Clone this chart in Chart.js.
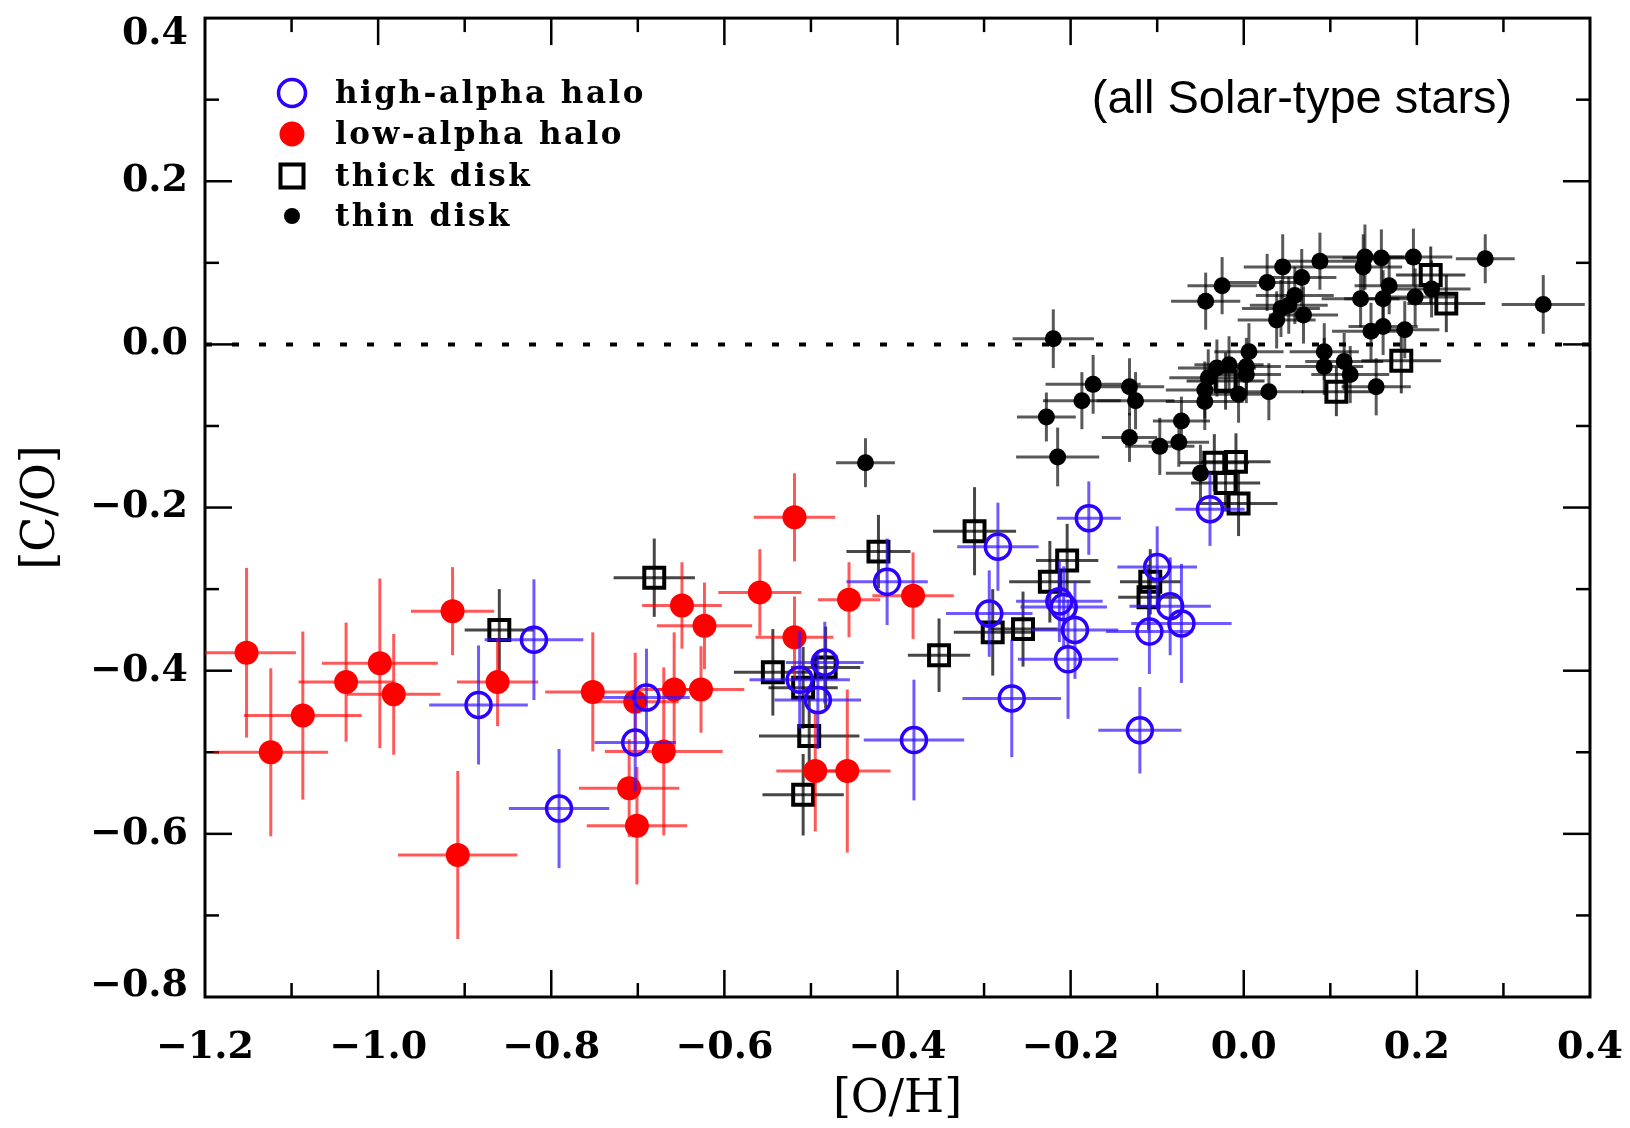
<!DOCTYPE html>
<html>
<head>
<meta charset="utf-8">
<title>[C/O] vs [O/H]</title>
<script src="https://cdn.jsdelivr.net/npm/chart.js@4.4.1/dist/chart.umd.min.js"></script>
<style>
    html, body { margin: 0; padding: 0; background: #fff; }
    canvas { display: block; }
</style>
</head>
<body>
<canvas id="coChart" width="1630" height="1128"></canvas>
<script>
// Values: [O/H], [C/O] and their 1-sigma errors

const highAlphaOH = [-0.884, -0.820, -0.791, -0.690, -0.703, -0.513, -0.492, -0.484, -0.412, -0.381, -0.294, -0.284,
    -0.268, -0.213, -0.208, -0.195, -0.203, -0.179, -0.120, -0.109, -0.100, -0.085, -0.072, -0.039];
const highAlphaCO = [-0.442, -0.362, -0.569, -0.433, -0.488, -0.411, -0.436, -0.390, -0.291, -0.485, -0.330, -0.248,
    -0.434, -0.315, -0.322, -0.350, -0.386, -0.213, -0.473, -0.352, -0.273, -0.321, -0.342, -0.202];
const highAlphaOHErr = [0.057, 0.057, 0.058, 0.050, 0.047, 0.058, 0.050, 0.045, 0.047, 0.058, 0.050, 0.047,
    0.057, 0.050, 0.050, 0.050, 0.058, 0.037, 0.048, 0.050, 0.046, 0.047, 0.058, 0.040];
const highAlphaCOErr = [0.073, 0.074, 0.073, 0.060, 0.060, 0.060, 0.060, 0.050, 0.053, 0.074, 0.053, 0.054,
    0.072, 0.050, 0.050, 0.060, 0.073, 0.045, 0.053, 0.052, 0.050, 0.060, 0.073, 0.045];

const lowAlphaOH = [-1.152, -1.124, -1.087, -1.037, -0.998, -0.982, -0.914, -0.908, -0.862, -0.752, -0.703, -0.710,
    -0.701, -0.670, -0.658, -0.649, -0.623, -0.627, -0.559, -0.519, -0.519, -0.495, -0.458, -0.456, -0.382];
const lowAlphaCO = [-0.378, -0.500, -0.455, -0.414, -0.391, -0.429, -0.327, -0.626, -0.414, -0.426, -0.438, -0.544,
    -0.590, -0.499, -0.423, -0.320, -0.345, -0.423, -0.304, -0.212, -0.359, -0.523, -0.523, -0.313, -0.308];
const lowAlphaOHErr = [0.057, 0.066, 0.068, 0.055, 0.067, 0.054, 0.048, 0.069, 0.047, 0.055, 0.050, 0.058,
    0.058, 0.068, 0.045, 0.046, 0.055, 0.050, 0.048, 0.047, 0.045, 0.045, 0.050, 0.036, 0.047];
const lowAlphaCOErr = [0.104, 0.103, 0.103, 0.073, 0.104, 0.074, 0.054, 0.103, 0.054, 0.073, 0.060, 0.060,
    0.072, 0.103, 0.070, 0.053, 0.053, 0.053, 0.053, 0.054, 0.050, 0.074, 0.100, 0.046, 0.053];

const thickDiskOH = [-0.860, -0.681, -0.544, -0.509, -0.502, -0.509, -0.483, -0.422, -0.352, -0.311, -0.290, -0.255,
    -0.224, -0.204, -0.108, -0.110, -0.034, -0.009, -0.021, -0.006, -0.021, 0.107, 0.182, 0.216, 0.234];
const thickDiskCO = [-0.350, -0.286, -0.402, -0.421, -0.480, -0.552, -0.396, -0.254, -0.381, -0.229, -0.353, -0.349,
    -0.291, -0.265, -0.291, -0.310, -0.145, -0.144, -0.170, -0.195, -0.045, -0.058, -0.020, 0.085, 0.050];
const thickDiskOHErr = [0.040, 0.047, 0.045, 0.040, 0.058, 0.047, 0.040, 0.037, 0.036, 0.048, 0.045, 0.040,
    0.047, 0.036, 0.035, 0.035, 0.040, 0.040, 0.040, 0.045, 0.045, 0.040, 0.046, 0.040, 0.045];
const thickDiskCOErr = [0.050, 0.048, 0.053, 0.050, 0.050, 0.050, 0.050, 0.045, 0.045, 0.054, 0.053, 0.046,
    0.050, 0.045, 0.040, 0.040, 0.035, 0.035, 0.035, 0.040, 0.035, 0.030, 0.040, 0.035, 0.035];

const thinDiskOH = [-0.437, -0.228, -0.220, -0.215, -0.187, -0.174, -0.132, -0.125, -0.132, -0.097, -0.072, -0.075,
    -0.050, -0.045, -0.045, -0.041, -0.031, -0.017, -0.006, 0.003, 0.003, 0.006, 0.029, -0.044, -0.025, 0.027,
    0.045, 0.067, 0.088, 0.043, 0.038, 0.069, 0.059, 0.052, 0.093, 0.093, 0.116, 0.123, 0.153, 0.138, 0.140,
    0.159, 0.196, 0.168, 0.135, 0.161, 0.198, 0.217, 0.147, 0.161, 0.186, 0.279, 0.346];
const thinDiskCO = [-0.145, -0.089, 0.007, -0.138, -0.069, -0.049, -0.052, -0.069, -0.114, -0.125, -0.094, -0.120,
    -0.158, -0.070, -0.056, -0.041, -0.029, -0.025, -0.061, -0.027, -0.037, -0.009, -0.058, 0.053, 0.072, 0.076,
    0.095, 0.082, 0.102, 0.044, 0.030, 0.036, 0.060, 0.048, -0.009, -0.027, -0.021, -0.037, -0.052, 0.095, 0.107,
    0.106, 0.107, 0.072, 0.056, 0.056, 0.058, 0.068, 0.016, 0.022, 0.018, 0.105, 0.049];
const thinDiskOHErr = [0.034, 0.034, 0.047, 0.048, 0.045, 0.055, 0.040, 0.045, 0.032, 0.040, 0.033, 0.035,
    0.040, 0.045, 0.045, 0.045, 0.045, 0.040, 0.040, 0.040, 0.040, 0.040, 0.040, 0.040, 0.040, 0.045,
    0.045, 0.040, 0.050, 0.045, 0.045, 0.040, 0.045, 0.045, 0.040, 0.045, 0.045, 0.045, 0.040, 0.045, 0.045,
    0.045, 0.045, 0.040, 0.045, 0.045, 0.045, 0.045, 0.045, 0.040, 0.040, 0.034, 0.048];
const thinDiskCOErr = [0.030, 0.030, 0.036, 0.036, 0.035, 0.036, 0.035, 0.035, 0.030, 0.035, 0.030, 0.030,
    0.035, 0.035, 0.035, 0.035, 0.035, 0.035, 0.035, 0.035, 0.035, 0.035, 0.035, 0.035, 0.035, 0.035,
    0.040, 0.035, 0.035, 0.035, 0.035, 0.035, 0.035, 0.035, 0.035, 0.035, 0.035, 0.035, 0.035, 0.040, 0.040,
    0.035, 0.035, 0.035, 0.035, 0.035, 0.035, 0.035, 0.035, 0.035, 0.035, 0.030, 0.036];

const solarLine = [-1.2, 0.4];   // dotted [C/O] = 0 line

const xTicks = [-1.2, -1.0, -0.8, -0.6, -0.4, -0.2, 0.0, 0.2, 0.4];
const yTicks = [-0.8, -0.6, -0.4, -0.2, 0.0, 0.2, 0.4];

const BLUE = '#2d00ff';
const RED = '#ff0000';
const SERIF = "'DejaVu Serif', 'Liberation Serif', serif";

const toPoints = (xs, ys) => xs.map((x, i) => ({ x: x, y: ys[i] }));
const fmt = (v) => (v < -1e-9 ? '\u2212' : '') + Math.abs(v).toFixed(1);
const isTop = (v) => Math.abs(v - yTicks[yTicks.length - 1]) < 1e-9;
const isBottom = (v) => Math.abs(v - yTicks[0]) < 1e-9;

// Keep the plot box exactly where the original has it
const pinBox = (size) => (scale) => {
    if (scale.isHorizontal()) scale.height = size;
    else scale.width = size;
    scale.paddingTop = 0;
    scale.paddingBottom = 0;
    scale.paddingLeft = 0;
    scale.paddingRight = 0;
};

// Error bars, drawn under each dataset's own markers
const errorBars = {
    id: 'errorBars',
    beforeDatasetDraw(chart, args) {
        const ds = chart.data.datasets[args.index];
        if (!ds.errX) return;
        const { ctx, chartArea: a, scales: { x, y } } = chart;
        ctx.save();
        ctx.beginPath();
        ctx.rect(a.left, a.top, a.right - a.left, a.bottom - a.top);
        ctx.clip();
        ctx.strokeStyle = ds.errColor;
        ctx.lineWidth = 3;
        ds.data.forEach((p, i) => {
            const px = x.getPixelForValue(p.x);
            const py = y.getPixelForValue(p.y);
            ctx.beginPath();
            ctx.moveTo(x.getPixelForValue(p.x - ds.errX[i]), py);
            ctx.lineTo(x.getPixelForValue(p.x + ds.errX[i]), py);
            ctx.stroke();
            ctx.beginPath();
            ctx.moveTo(px, y.getPixelForValue(p.y - ds.errY[i]));
            ctx.lineTo(px, y.getPixelForValue(p.y + ds.errY[i]));
            ctx.stroke();
        });
        ctx.restore();
    }
};

// IDL style box: frame plus inward ticks on all four sides
const boxFrame = {
    id: 'boxFrame',
    beforeDatasetsDraw(chart) {
        const { ctx, chartArea: a, scales: { x, y } } = chart;
        const MAJOR = 27, MINOR = 14;
        const seg = (px, py, dx, dy) => {
            ctx.beginPath();
            ctx.moveTo(px, py);
            ctx.lineTo(px + dx, py + dy);
            ctx.stroke();
        };
        ctx.save();
        ctx.strokeStyle = '#000';
        ctx.lineWidth = 2.5;
        xTicks.forEach((v, i) => {
            if (i > 0 && i < xTicks.length - 1) {
                const px = x.getPixelForValue(v);
                seg(px, a.bottom, 0, -MAJOR);
                seg(px, a.top, 0, MAJOR);
            }
            if (i < xTicks.length - 1) {
                const pm = x.getPixelForValue((v + xTicks[i + 1]) / 2);
                seg(pm, a.bottom, 0, -MINOR);
                seg(pm, a.top, 0, MINOR);
            }
        });
        yTicks.forEach((v, i) => {
            if (i > 0 && i < yTicks.length - 1) {
                const py = y.getPixelForValue(v);
                seg(a.left, py, MAJOR, 0);
                seg(a.right, py, -MAJOR, 0);
            }
            if (i < yTicks.length - 1) {
                const pm = y.getPixelForValue((v + yTicks[i + 1]) / 2);
                seg(a.left, pm, MINOR, 0);
                seg(a.right, pm, -MINOR, 0);
            }
        });
        ctx.lineWidth = 3;
        ctx.strokeRect(a.left, a.top, a.right - a.left, a.bottom - a.top);
        ctx.restore();
    }
};

// Legend box in the upper left and the note in the upper right
const legendItems = [
    { label: 'high-alpha halo', marker: 'ring' },
    { label: 'low-alpha halo', marker: 'dot' },
    { label: 'thick disk', marker: 'square' },
    { label: 'thin disk', marker: 'small' }
];

const annotations = {
    id: 'annotations',
    afterDraw(chart) {
        const ctx = chart.ctx;
        const mx = 292, tx = 335, rows = [93, 134, 176, 216];
        ctx.save();
        legendItems.forEach((item, i) => {
            const cy = rows[i];
            ctx.beginPath();
            if (item.marker === 'ring') {
                ctx.arc(mx, cy, 13.5, 0, Math.PI * 2);
                ctx.strokeStyle = BLUE;
                ctx.lineWidth = 3.5;
                ctx.stroke();
            } else if (item.marker === 'dot') {
                ctx.arc(mx, cy, 12.5, 0, Math.PI * 2);
                ctx.fillStyle = RED;
                ctx.fill();
            } else if (item.marker === 'square') {
                ctx.rect(mx - 11.5, cy - 11.5, 23, 23);
                ctx.strokeStyle = '#000';
                ctx.lineWidth = 4;
                ctx.stroke();
            } else {
                ctx.arc(mx, cy, 8, 0, Math.PI * 2);
                ctx.fillStyle = '#000';
                ctx.fill();
            }
            ctx.fillStyle = '#000';
            ctx.font = 'bold 31px ' + SERIF;
            ctx.letterSpacing = '2.5px';
            ctx.textAlign = 'left';
            ctx.textBaseline = 'alphabetic';
            ctx.fillText(item.label, tx, cy + 10);
            ctx.letterSpacing = '0px';
        });
        ctx.font = "47px 'Liberation Sans', Arial, sans-serif";
        ctx.textAlign = 'center';
        ctx.fillText('(all Solar-type stars)', 1302, 113);
        ctx.restore();
    }
};

Chart.defaults.font.family = SERIF;
Chart.defaults.color = '#000';

const ctx = document.getElementById('coChart').getContext('2d');
new Chart(ctx, {
    type: 'scatter',
    data: {
        datasets: [
            {
                label: 'high-alpha halo',
                data: toPoints(highAlphaOH, highAlphaCO),
                errX: highAlphaOHErr,
                errY: highAlphaCOErr,
                errColor: 'rgba(50, 20, 255, 0.7)',
                pointStyle: 'circle',
                pointRadius: 12.5,
                borderWidth: 3.5,
                borderColor: BLUE,
                backgroundColor: 'rgba(0,0,0,0)'
            },
            {
                label: 'low-alpha halo',
                data: toPoints(lowAlphaOH, lowAlphaCO),
                errX: lowAlphaOHErr,
                errY: lowAlphaCOErr,
                errColor: 'rgba(255, 0, 0, 0.65)',
                pointStyle: 'circle',
                pointRadius: 12,
                borderWidth: 0,
                backgroundColor: RED
            },
            {
                label: 'thick disk',
                data: toPoints(thickDiskOH, thickDiskCO),
                errX: thickDiskOHErr,
                errY: thickDiskCOErr,
                errColor: 'rgba(0, 0, 0, 0.72)',
                pointStyle: 'rect',
                pointRadius: 14.1,
                borderWidth: 4,
                borderColor: '#000',
                backgroundColor: 'rgba(0,0,0,0)'
            },
            {
                label: 'thin disk',
                data: toPoints(thinDiskOH, thinDiskCO),
                errX: thinDiskOHErr,
                errY: thinDiskCOErr,
                errColor: 'rgba(0, 0, 0, 0.65)',
                pointStyle: 'circle',
                pointRadius: 8.5,
                borderWidth: 0,
                backgroundColor: '#000'
            },
            {
                label: 'solar',
                type: 'line',
                showLine: true,
                data: solarLine.map(v => ({ x: v, y: 0 })),
                borderColor: '#000',
                borderWidth: 4,
                borderDash: [7, 20],
                pointRadius: 0
            }
        ]
    },
    options: {
        responsive: false,
        animation: false,
        events: [],
        layout: { padding: { top: 11, right: 40, left: 0, bottom: 0 } },
        plugins: {
            legend: { display: false },
            tooltip: { enabled: false }
        },
        scales: {
            x: {
                type: 'linear',
                min: -1.2,
                max: 0.4,
                afterBuildTicks: (scale) => { scale.ticks = xTicks.map(v => ({ value: v })); },
                afterFit: pinBox(131),
                grid: { display: false, drawTicks: false },
                border: { display: false },
                ticks: {
                    padding: 28,
                    font: { size: 38, weight: 'bold', lineHeight: 1.2 },
                    callback: (v) => fmt(v)
                },
                title: {
                    display: true,
                    text: '[O/H]',
                    font: { size: 46, lineHeight: 1.2 },
                    padding: { top: 0, bottom: 0 }
                }
            },
            y: {
                type: 'linear',
                min: -0.8,
                max: 0.4,
                afterBuildTicks: (scale) => { scale.ticks = yTicks.map(v => ({ value: v })); },
                afterFit: pinBox(205),
                grid: { display: false, drawTicks: false },
                border: { display: false },
                ticks: {
                    padding: 17,
                    // edge labels are pushed inside the box, as in the original
                    font: (c) => {
                        const v = c.tick ? c.tick.value : 0;
                        if (isTop(v)) return { size: 38, weight: 'bold', lineHeight: 0.84 };
                        if (isBottom(v)) return { size: 38, weight: 'bold', lineHeight: 0.58 };
                        return { size: 38, weight: 'bold', lineHeight: 1.2 };
                    },
                    callback: (v) => {
                        if (isTop(v)) return ['', fmt(v)];
                        if (isBottom(v)) return [fmt(v), ''];
                        return fmt(v);
                    }
                },
                title: {
                    display: true,
                    text: '[C/O]',
                    font: { size: 46, lineHeight: 1.2 },
                    padding: { top: 14, bottom: 0 }
                }
            }
        }
    },
    plugins: [errorBars, boxFrame, annotations]
});
</script>
</body>
</html>
